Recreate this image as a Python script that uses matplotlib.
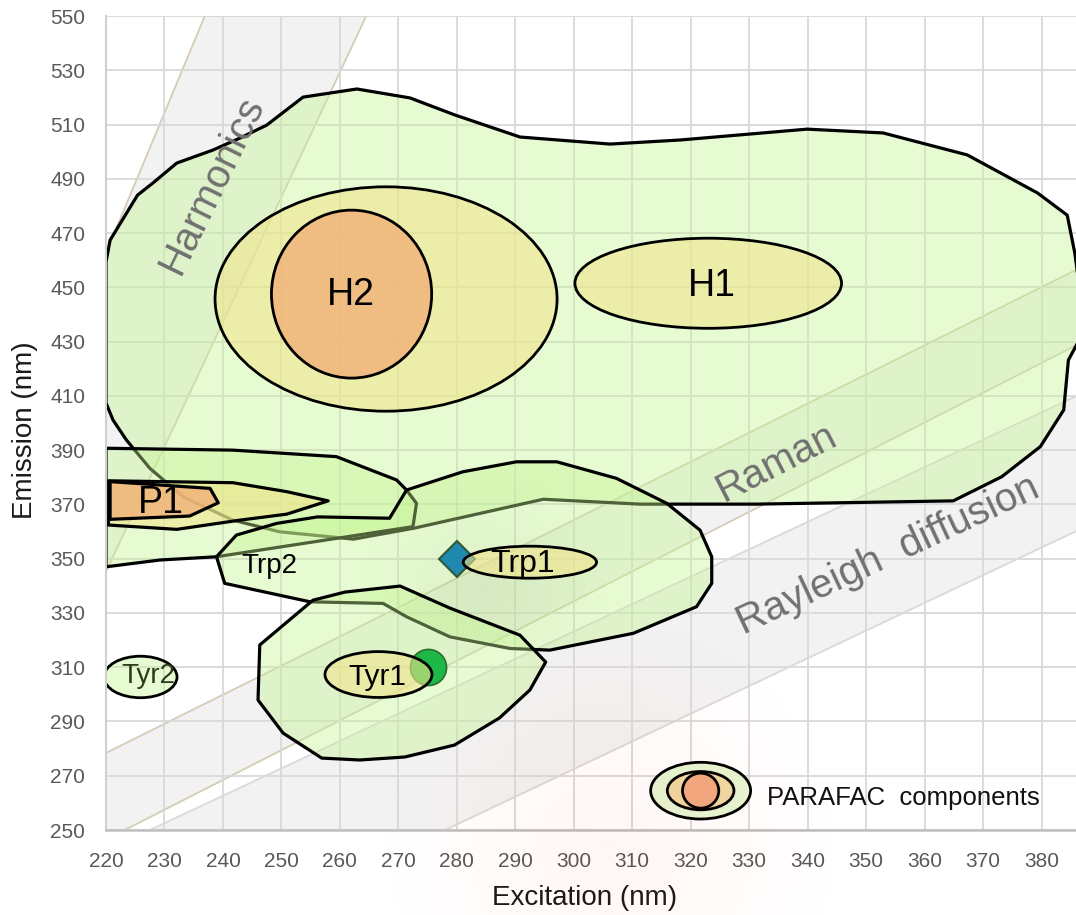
"""
EEM peak map: PARAFAC component regions over the scatter bands
"""
import numpy as np
import matplotlib
matplotlib.use("Agg")
import matplotlib.pyplot as plt
from matplotlib.patches import Ellipse, Polygon

# axis ranges and ticks (nm)
EX_LIMITS = (220, 385.9)
EM_LIMITS = (250, 550)
EX_TICKS = list(range(220, 381, 10))
EM_TICKS = list(range(250, 551, 20))

# harmonic and scatter bands, outlines as (excitation, emission)
HARMONICS_EX = [220.0, 220.0, 236.9, 264.5]
HARMONICS_EM = [345.2, 462.6, 550.0, 550.0]
RAMAN_EX = [220.0, 220.0, 390.0, 390.0, 223.2]
RAMAN_EM = [250.0, 278.4, 460.8, 433.1, 250.0]
RAYLEIGH_EX = [227.5, 390.0, 390.0, 278.0]
RAYLEIGH_EM = [250.0, 414.0, 364.3, 250.0]

# humic envelope (H1/H2 region)
HUMIC_EX = [220.0, 220.7, 225.4, 228.0, 232.1, 238.3, 242.9, 247.5, 253.7,
            262.9, 272.0, 279.7, 290.8, 306.2, 318.2, 339.9, 352.9, 367.3,
            379.3, 384.4, 385.7, 386.8, 386.8, 384.6, 383.8, 379.8, 373.2,
            364.9, 331.3, 311.3, 294.8, 272.6, 262.3, 249.7, 241.7, 233.2,
            227.5, 223.5, 221.2, 220.0]
HUMIC_EM = [459.3, 467.4, 484.0, 488.4, 495.8, 500.6, 505.0, 509.8, 520.1,
            523.1, 519.8, 513.5, 505.4, 502.8, 504.3, 508.3, 506.9, 498.8,
            484.8, 476.6, 462.6, 445.0, 432.0, 423.2, 404.8, 391.3, 380.2,
            371.3, 370.1, 370.1, 371.9, 361.2, 357.2, 359.9, 364.2, 372.8,
            383.3, 393.7, 401.1, 407.4]

# P1 region: outer, middle and inner outlines
P_OUTER_EX = [220.0, 241.7, 259.4, 269.7, 271.4, 273.1, 272.5, 238.9, 229.2, 220.0]
P_OUTER_EM = [390.7, 390.0, 387.6, 379.0, 375.3, 370.4, 361.8, 350.7, 349.5, 347.0]
P_MID_EX = [220.4, 241.7, 250.9, 258.0, 250.9, 242.9, 232.1, 220.4]
P_MID_EM = [378.7, 378.0, 374.7, 371.3, 366.4, 364.2, 360.8, 362.4]
P_INNER_EX = [220.7, 237.8, 239.2, 234.3, 220.7]
P_INNER_EM = [378.4, 375.9, 370.6, 365.7, 364.5]

# tryptophan-like envelope (Trp1 + Trp2)
TRP_EX = [238.9, 242.3, 249.2, 256.2, 268.5, 271.4, 281.0, 290.2, 297.1,
          307.3, 315.9, 321.6, 323.6, 323.6, 321.0, 310.2, 295.9, 289.1,
          278.8, 271.4, 267.4, 254.9, 240.3]
TRP_EM = [350.7, 358.7, 363.0, 365.4, 364.9, 375.3, 382.0, 385.7, 385.7,
          379.6, 370.4, 360.5, 350.7, 340.9, 332.3, 322.5, 316.3, 316.9,
          321.2, 328.6, 333.5, 334.1, 340.9]

# tyrosine-like envelope (Tyr1)
TYR_EX = [246.3, 246.0, 250.3, 256.9, 263.4, 271.1, 279.6, 287.3, 292.5,
          295.2, 290.8, 278.8, 270.3, 260.9, 255.4]
TYR_EM = [318.2, 297.9, 285.7, 276.5, 275.8, 276.9, 281.3, 291.3, 301.6,
          311.9, 321.8, 331.8, 339.9, 337.7, 334.7]

# component ellipses: centre and full span (nm)
H2_EX, H2_EM = [267.9, 262.0], [445.7, 447.5]
H2_EX_SPAN, H2_EM_SPAN = [58.5, 27.4], [82.7, 61.9]
H1_EX, H1_EM, H1_EX_SPAN, H1_EM_SPAN = 323.0, 451.5, 45.6, 33.2
TRP1_EX, TRP1_EM, TRP1_EX_SPAN, TRP1_EM_SPAN = 292.5, 348.7, 22.8, 11.8
TYR1_EX, TYR1_EM, TYR1_EX_SPAN, TYR1_EM_SPAN = 266.6, 307.3, 18.3, 16.9
TYR2_EX, TYR2_EM, TYR2_EX_SPAN, TYR2_EM_SPAN = 225.9, 306.4, 12.5, 15.3

# single reference peaks
TRP_PEAK = (280, 350)
TYR_PEAK = (275, 310)

# component labels
LABELS = ["H2", "H1", "P1", "Trp2", "Trp1", "Tyr1", "Tyr2"]
LABEL_EX = [261.8, 323.7, 229.4, 248.0, 291.2, 266.4, 227.2]
LABEL_EM = [443.5, 446.8, 366.7, 344.6, 345.2, 303.4, 304.0]

# legend symbol
KEY_EX, KEY_EM = 321.7, 264.5
KEY_EX_SPAN = [17.1, 11.4, 6.2]
KEY_EM_SPAN = [20.9, 14.1, 12.9]

GREEN = (0.77, 0.96, 0.57, 0.4)
YELLOW = (0.945, 0.894, 0.55, 0.6)
ORANGE = (0.945, 0.675, 0.46, 0.75)
SANS = ["Liberation Sans", "DejaVu Sans"]
NARROW = ["Liberation Sans Narrow", "Liberation Sans", "DejaVu Sans"]
PX_PER_NM = (5.846, 2.713)      # x, y pixel scale of the plot area
OUTPUT = "out.png"


def region(axes, xs, ys, face, zorder, width=2.3):
    """add a filled outline in data coordinates"""
    patch = Polygon(list(zip(xs, ys)), closed=True, facecolor=face,
                    edgecolor="black", linewidth=width, joinstyle="round",
                    zorder=zorder)
    axes.add_patch(patch)
    return patch


def oval(axes, x, y, w, h, face, zorder, width=2.0):
    """add a filled ellipse in data coordinates"""
    axes.add_patch(Ellipse((x, y), w, h, facecolor=face, edgecolor="black",
                           linewidth=width, zorder=zorder))


def glow(axes, centre, radius, color, peak, zorder, extent):
    """soft radial tint, radius in pixels"""
    xs = np.linspace(extent[0], extent[1], 400)
    ys = np.linspace(extent[2], extent[3], 400)
    grid_x, grid_y = np.meshgrid(xs, ys)
    dist = np.hypot((grid_x - centre[0]) * PX_PER_NM[0],
                    (grid_y - centre[1]) * PX_PER_NM[1]) / radius
    rgba = np.zeros(grid_x.shape + (4,))
    rgba[..., :3] = color
    rgba[..., 3] = peak * np.clip(1 - dist, 0, 1) ** 1.5
    return axes.imshow(rgba, extent=extent, origin="lower", aspect="auto",
                       interpolation="bilinear", zorder=zorder)


def main():
    """draw the map and save it"""
    fig = plt.figure(figsize=(10.76, 9.15), dpi=100)
    ax = fig.add_axes([106 / 1076, 85 / 915, 970 / 1076, 814 / 915])

    # grid and frame
    ax.set_axisbelow(True)
    ax.set_xticks(EX_TICKS)
    ax.set_yticks(EM_TICKS)
    ax.grid(True, color="#D9D9D9", linewidth=1.3)
    ax.tick_params(length=0, labelsize=15, labelcolor="#595959")
    ax.tick_params(axis="x", pad=16)
    ax.tick_params(axis="y", pad=15)
    for lab in ax.get_xticklabels() + ax.get_yticklabels():
        lab.set_family(SANS)
    for side in ("top", "right"):
        ax.spines[side].set_visible(False)
    ax.spines["left"].set_color("#D0D0D0")
    ax.spines["left"].set_linewidth(1.5)
    ax.spines["bottom"].set_color("#BFBFBF")
    ax.spines["bottom"].set_linewidth(1.8)

    # bands
    ax.add_patch(Polygon(list(zip(HARMONICS_EX, HARMONICS_EM)), closed=True,
                         facecolor="#F2F2F2", edgecolor="#D6CBB6",
                         linewidth=1.3, zorder=0.2))
    ax.add_patch(Polygon(list(zip(RAMAN_EX, RAMAN_EM)), closed=True,
                         facecolor="#F2F2F2", edgecolor="#D6CBB6",
                         linewidth=1.3, zorder=0.2))
    ax.add_patch(Polygon(list(zip(RAYLEIGH_EX, RAYLEIGH_EM)), closed=True,
                         facecolor="#F2F2F2", edgecolor="#D9D9D9",
                         linewidth=1.3, zorder=0.2))

    # humic components
    region(ax, HUMIC_EX, HUMIC_EM, GREEN, 1.0)
    oval(ax, H2_EX[0], H2_EM[0], H2_EX_SPAN[0], H2_EM_SPAN[0], YELLOW, 1.1)
    oval(ax, H2_EX[1], H2_EM[1], H2_EX_SPAN[1], H2_EM_SPAN[1], ORANGE, 1.2)
    oval(ax, H1_EX, H1_EM, H1_EX_SPAN, H1_EM_SPAN, YELLOW, 1.3)

    # P1
    region(ax, P_OUTER_EX, P_OUTER_EM, GREEN, 1.4)
    region(ax, P_MID_EX, P_MID_EM, YELLOW, 1.5)
    region(ax, P_INNER_EX, P_INNER_EM, ORANGE, 1.6)

    # protein-like components, the Trp envelope darkened towards its middle
    trp = region(ax, TRP_EX, TRP_EM, GREEN, 1.7)
    shade = glow(ax, (284.5, 338.5), 140, (0.45, 0.5, 0.35), 0.09, 1.72,
                 (EX_LIMITS[0], EX_LIMITS[1], EM_LIMITS[0], EM_LIMITS[1]))
    shade.set_clip_path(trp)
    region(ax, TYR_EX, TYR_EM, GREEN, 1.8)
    ax.plot(*TRP_PEAK, marker="D", markersize=18, color="#1F89B0",
            markeredgecolor="#2F5A36", markeredgewidth=1.5, zorder=1.9)
    oval(ax, TRP1_EX, TRP1_EM, TRP1_EX_SPAN, TRP1_EM_SPAN, YELLOW, 2.0)
    ax.plot(*TYR_PEAK, marker="o", markersize=26, color="#1DB848",
            markeredgecolor="#2E6E2C", markeredgewidth=1.2, zorder=2.1)
    oval(ax, TYR1_EX, TYR1_EM, TYR1_EX_SPAN, TYR1_EM_SPAN, YELLOW, 2.2)
    oval(ax, TYR2_EX, TYR2_EM, TYR2_EX_SPAN, TYR2_EM_SPAN, GREEN, 2.3)

    # legend symbol
    for span_x, span_y, face in zip(KEY_EX_SPAN, KEY_EM_SPAN,
                                    ["#E6F6D2", "#EFD9A2", "#F2AA80"]):
        oval(ax, KEY_EX, KEY_EM, span_x, span_y, face, 2.4)
    ax.text(333.0, 259.2, "PARAFAC  components", fontsize=18.5, family=SANS,
            color="#111111", ha="left", va="baseline", zorder=3)

    # component names
    for name, x, y in zip(LABELS, LABEL_EX, LABEL_EM):
        if name in ("H1", "H2", "P1"):
            ax.text(x, y, name, fontsize=27, family=NARROW, ha="center",
                    va="baseline", zorder=3)
        else:
            size = {"Trp1": 23, "Tyr1": 21.5}.get(name, 20)
            color = "#2B3A1C" if name == "Tyr2" else "black"
            ax.text(x, y, name, fontsize=size, family=SANS, color=color,
                    ha="center", va="baseline", zorder=3)

    # band names
    band_style = dict(fontsize=29, family=SANS, color="#707070", ha="center",
                      va="center", rotation_mode="anchor", zorder=3)
    ax.text(238.2, 487.7, "Harmonics", rotation=64, **band_style)
    ax.text(334.7, 385.4, "Raman", rotation=27, **band_style)
    ax.text(353.7, 351.3, "Rayleigh  diffusion", rotation=25, **band_style)

    ax.set_xlim(*EX_LIMITS)
    ax.set_ylim(*EM_LIMITS)

    # faint pink haze low in the middle of the figure
    haze = fig.add_axes([0, 0, 1, 1], zorder=5)
    haze.set_axis_off()
    haze.set_xlim(0, 1076)
    haze.set_ylim(0, 915)
    xs, ys = np.meshgrid(np.arange(1076), np.arange(915))
    dist = np.hypot(xs - 610, ys - 70) / 260
    tint = np.zeros((915, 1076, 4))
    tint[..., 0] = 1.0
    tint[..., 3] = 0.04 * np.clip(1 - dist, 0, 1) ** 1.2
    haze.imshow(tint, extent=(0, 1076, 0, 915), origin="lower", aspect="auto")

    # axis titles
    fig.text(585 / 1076, 1 - 898 / 915, "Excitation (nm)", fontsize=20,
             family=SANS, color="#1A1A1A", ha="center", va="center")
    fig.text(25 / 1076, 1 - 430 / 915, "Emission (nm)", fontsize=20,
             family=SANS, color="#1A1A1A", ha="center", va="center",
             rotation=90)

    print("saving map as " + OUTPUT)
    fig.savefig(OUTPUT, dpi=100)
    plt.close(fig)


if __name__ == "__main__":
    main()
